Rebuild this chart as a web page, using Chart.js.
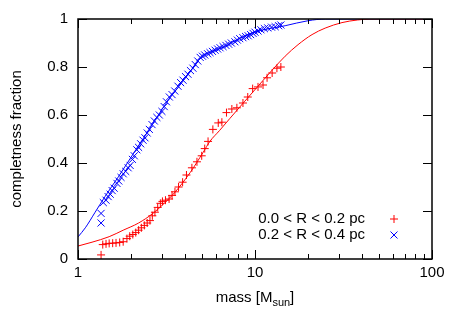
<!DOCTYPE html>
<html><head><meta charset="utf-8">
<script src="https://cdn.jsdelivr.net/npm/chart.js@4/dist/chart.umd.min.js"></script>
<style>html,body{margin:0;padding:0;background:#fff}</style>
</head><body>
<canvas id="c" width="458" height="321" style="width:458px;height:321px;display:block"></canvas>
<script>
// ---- data ----
const redMass = [1.35,1.38,1.44,1.50,1.57,1.64,1.72,1.80,1.89,1.96,2.04,2.12,2.20,2.28,2.37,2.46,2.55,2.63,2.72,2.82,2.92,3.00,3.12,3.27,3.40,3.53,3.70,3.90,4.10,4.40,4.70,5.00,5.20,5.43,5.78,6.20,6.50,6.90,7.40,7.90,8.55,9.10,9.70,10.4,11.1,11.7,12.5,13.3,14.0];
const redFrac = [0.017,0.060,0.063,0.065,0.066,0.067,0.069,0.072,0.085,0.095,0.102,0.110,0.120,0.130,0.140,0.150,0.160,0.180,0.195,0.215,0.232,0.240,0.245,0.250,0.265,0.280,0.300,0.320,0.350,0.380,0.405,0.430,0.460,0.490,0.540,0.567,0.570,0.610,0.625,0.630,0.650,0.675,0.710,0.717,0.725,0.755,0.775,0.795,0.800];

const blueMass = [1.35,1.35,1.39,1.44,1.48,1.52,1.56,1.60,1.66,1.70,1.75,1.80,1.86,1.92,1.97,2.03,2.08,2.15,2.20,2.26,2.33,2.39,2.46,2.53,2.62,2.70,2.79,2.88,2.98,3.07,3.16,3.28,3.40,3.52,3.67,3.80,3.92,4.05,4.18,4.32,4.46,4.60,4.75,4.90,5.05,5.20,5.40,5.57,5.75,5.95,6.15,6.35,6.60,6.85,7.10,7.35,7.70,7.95,8.20,8.55,8.85,9.15,9.45,9.75,10.0,10.4,10.8,11.3,11.8,12.4,13.0,13.6,14.0];
const blueFrac = [0.150,0.190,0.235,0.245,0.260,0.270,0.285,0.295,0.315,0.325,0.340,0.355,0.365,0.380,0.390,0.415,0.430,0.455,0.465,0.480,0.495,0.505,0.525,0.540,0.560,0.575,0.590,0.600,0.615,0.635,0.655,0.675,0.685,0.700,0.720,0.735,0.745,0.760,0.770,0.785,0.795,0.810,0.825,0.840,0.845,0.850,0.855,0.860,0.865,0.870,0.875,0.880,0.885,0.890,0.895,0.900,0.905,0.912,0.918,0.922,0.927,0.930,0.935,0.940,0.945,0.950,0.955,0.960,0.963,0.966,0.968,0.972,0.975];

const redFitMass = [1,1.2,1.5,1.8,2.2,2.65,3.1,3.5,4.3,5.1,5.56,6.3,7.2,8.7,10.4,12.5,14.8,17.5,21,24.9,31,38,45,100];
const redFitFrac = [0.054,0.070,0.093,0.120,0.150,0.190,0.235,0.275,0.360,0.445,0.490,0.535,0.585,0.655,0.720,0.787,0.845,0.893,0.935,0.962,0.985,0.996,1.000,1.000];

const blueFitMass = [1,1.1,1.25,1.42,1.7,2.1,2.5,2.9,3.3,3.77,4.3,4.8,5.1,5.6,6.75,7.5,10,14.8,20,25,100];
const blueFitFrac = [0.092,0.130,0.195,0.260,0.345,0.450,0.535,0.610,0.670,0.725,0.780,0.830,0.848,0.862,0.885,0.905,0.946,0.972,0.993,1.000,1.000];

const xTickValues = [1,10,100];
const xMinorValues = [2,3,4,5,6,7,8,9,20,30,40,50,60,70,80,90];
const yTickValues = [0,0.2,0.4,0.6,0.8,1];
const xTitleMain = 'mass [M';
const xTitleSub = 'sun';
const xTitleEnd = ']';
const yTitle = 'completness fraction';
const seriesLabels = ['0.0 < R < 0.2 pc','0.2 < R < 0.4 pc'];

const FONT = "'Liberation Sans', Arial, Helvetica, sans-serif";
const FS = 15;
const pts = (xs, ys) => xs.map((x, i) => ({x: x, y: ys[i]}));

const decor = {
  id: 'decor',
  afterDraw(chart) {
    const ctx = chart.ctx, a = chart.chartArea;
    const xs = chart.scales.x, ys = chart.scales.y;
    ctx.save();
    ctx.strokeStyle = '#000';
    ctx.lineWidth = 1;
    ctx.beginPath();
    xTickValues.forEach(v => {
      const p = Math.round(xs.getPixelForValue(v)) + 0.5;
      ctx.moveTo(p, a.bottom); ctx.lineTo(p, a.bottom - 9);
      ctx.moveTo(p, a.top); ctx.lineTo(p, a.top + 9);
    });
    xMinorValues.forEach(v => {
      const p = Math.round(xs.getPixelForValue(v)) + 0.5;
      ctx.moveTo(p, a.bottom); ctx.lineTo(p, a.bottom - 5);
      ctx.moveTo(p, a.top); ctx.lineTo(p, a.top + 5);
    });
    yTickValues.forEach(v => {
      const p = Math.round(ys.getPixelForValue(v)) + 0.5;
      ctx.moveTo(a.left, p); ctx.lineTo(a.left + 9, p);
      ctx.moveTo(a.right, p); ctx.lineTo(a.right - 9, p);
    });
    ctx.stroke();
    ctx.lineWidth = 1.5;
    ctx.strokeRect(a.left, a.top, a.right - a.left, a.bottom - a.top);

    ctx.fillStyle = '#000';
    ctx.textBaseline = 'alphabetic';
    ctx.textAlign = 'left';
    const big = FS + 'px ' + FONT, small = '11px ' + FONT;
    ctx.font = big; const w1 = ctx.measureText(xTitleMain).width; const w3 = ctx.measureText(xTitleEnd).width;
    ctx.font = small; const w2 = ctx.measureText(xTitleSub).width;
    let x0 = (a.left + a.right) / 2 - (w1 + w2 + w3) / 2;
    const by = 302;
    ctx.font = big; ctx.fillText(xTitleMain, x0, by);
    ctx.font = small; ctx.fillText(xTitleSub, x0 + w1, by + 4);
    ctx.font = big; ctx.fillText(xTitleEnd, x0 + w1 + w2, by);

    ctx.save();
    ctx.translate(17, (a.top + a.bottom) / 2);
    ctx.rotate(-Math.PI / 2);
    ctx.textAlign = 'center';
    ctx.textBaseline = 'middle';
    ctx.font = big;
    ctx.fillText(yTitle, 0, 0);
    ctx.restore();

    ctx.font = big;
    ctx.textAlign = 'right';
    ctx.textBaseline = 'middle';
    const rows = [219, 235];
    const colors = ['#ff0000', '#0000ff'];
    seriesLabels.forEach((t, i) => {
      ctx.fillStyle = '#000';
      ctx.fillText(t, 365, rows[i]);
      ctx.strokeStyle = colors[i];
      ctx.lineWidth = 1;
      const mx = 394, my = rows[i];
      ctx.beginPath();
      if (i === 0) {
        ctx.moveTo(mx - 4, my); ctx.lineTo(mx + 4, my);
        ctx.moveTo(mx, my - 4); ctx.lineTo(mx, my + 4);
      } else {
        ctx.moveTo(mx - 3.5, my - 3.5); ctx.lineTo(mx + 3.5, my + 3.5);
        ctx.moveTo(mx - 3.5, my + 3.5); ctx.lineTo(mx + 3.5, my - 3.5);
      }
      ctx.stroke();
    });
    ctx.restore();
  }
};

new Chart(document.getElementById('c'), {
  type: 'scatter',
  data: {
    datasets: [
      {label: seriesLabels[0], data: pts(redMass, redFrac), pointStyle: 'cross', pointRadius: 4, borderColor: '#ff0000', backgroundColor: '#ff0000', borderWidth: 1, showLine: false},
      {label: seriesLabels[1], data: pts(blueMass, blueFrac), pointStyle: 'crossRot', pointRadius: 5, borderColor: '#0000ff', backgroundColor: '#0000ff', borderWidth: 1, showLine: false},
      {label: 'fit red', data: pts(redFitMass, redFitFrac), showLine: true, pointRadius: 0, borderColor: '#ff0000', borderWidth: 1, cubicInterpolationMode: 'monotone', fill: false},
      {label: 'fit blue', data: pts(blueFitMass, blueFitFrac), showLine: true, pointRadius: 0, borderColor: '#0000ff', borderWidth: 1, cubicInterpolationMode: 'monotone', fill: false}
    ]
  },
  options: {
    responsive: false,
    animation: false,
    devicePixelRatio: 1,
    layout: {padding: {top: 19, right: 26, left: 0, bottom: 0}},
    plugins: {legend: {display: false}, tooltip: {enabled: false}},
    scales: {
      x: {
        type: 'logarithmic', min: 1, max: 100, position: 'bottom',
        afterBuildTicks: s => { s.ticks = xTickValues.map(v => ({value: v})); },
        afterFit: s => { s.height = 62; },
        ticks: {color: '#000', font: {family: FONT, size: FS}, padding: 5, maxRotation: 0, autoSkip: false, callback: v => String(v)},
        grid: {display: false, drawTicks: false},
        border: {display: false}
      },
      y: {
        type: 'linear', min: 0, max: 1,
        afterBuildTicks: s => { s.ticks = yTickValues.map(v => ({value: v})); },
        afterFit: s => { s.width = 78; },
        ticks: {color: '#000', font: {family: FONT, size: FS}, padding: 10, callback: v => (v === 0 || v === 1) ? String(v) : v.toFixed(1)},
        grid: {display: false, drawTicks: false},
        border: {display: false}
      }
    }
  },
  plugins: [decor]
});
</script>
</body></html>
